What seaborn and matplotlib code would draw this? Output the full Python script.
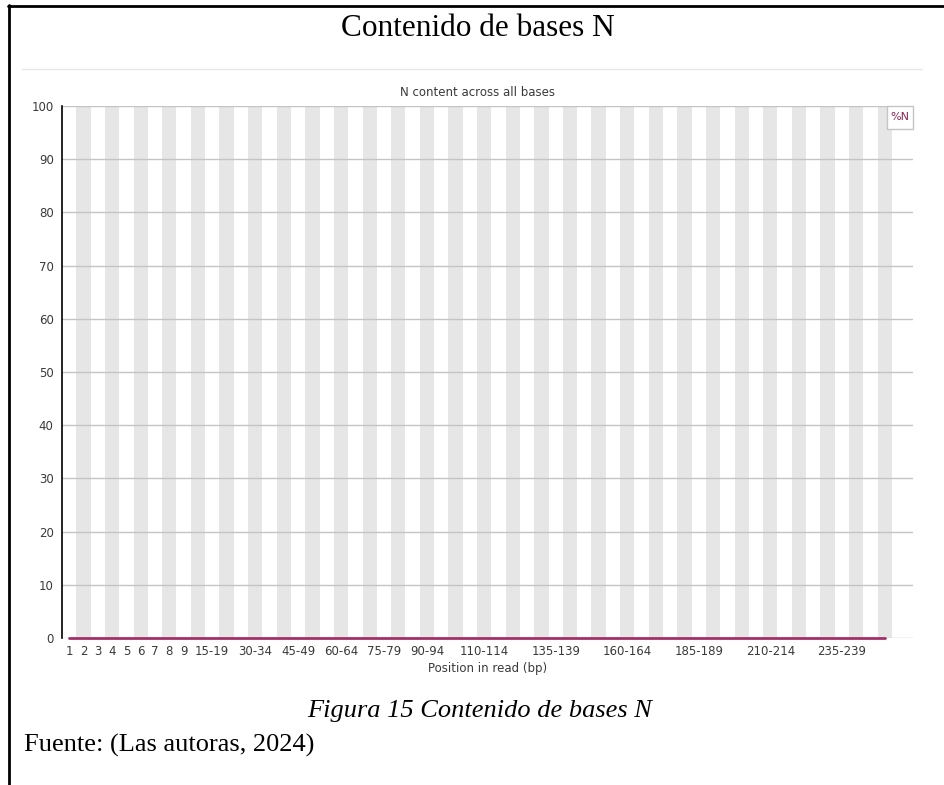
import pandas as pd
import seaborn as sns
import matplotlib.pyplot as plt
from matplotlib.lines import Line2D
from matplotlib.patches import Rectangle

# FastQC position bins (bp)
positions = [str(i) for i in range(1, 10)] + [f"{s}-{s + 4}" for s in range(10, 250, 5)] + ["250-251"]
n_pct = [0.0] * len(positions)

shown_labels = ["1", "2", "3", "4", "5", "6", "7", "8", "9", "15-19", "30-34", "45-49",
                "60-64", "75-79", "90-94", "110-114", "135-139", "160-164", "185-189",
                "210-214", "235-239"]
y_ticks = [0, 10, 20, 30, 40, 50, 60, 70, 80, 90, 100]

df = pd.DataFrame({"Position": positions, "%N": n_pct})

sns.set_style("white")
plt.rcParams["font.family"] = ["DejaVu Sans"]

W, H = 945, 785
fig = plt.figure(figsize=(W / 100, H / 100), dpi=100)
ax = fig.add_axes([62 / W, 147 / H, (913 - 62) / W, (638 - 106) / H])

# alternating background bands
for i in range(1, len(positions), 2):
    ax.axvspan(i - 0.5, i + 0.5, color="#e6e6e6", lw=0, zorder=0)
for y in y_ticks:
    ax.axhline(y, color="#c4c4c4", lw=1, zorder=1)

sns.lineplot(data=df, x="Position", y="%N", color="#a3306a", lw=2, ax=ax,
             legend=False, zorder=3, clip_on=False)

ax.set_xlim(-0.5, 58.97)
ax.set_ylim(0, 100)
ax.set_yticks(y_ticks)
ax.set_xticks([positions.index(p) for p in shown_labels])
ax.set_xticklabels(shown_labels)
ax.tick_params(axis="both", length=0, labelsize=8.5, colors="#3a3a3a")
ax.tick_params(axis="x", pad=5)
ax.tick_params(axis="y", pad=6)
ax.set_xlabel("Position in read (bp)", fontsize=8.5, color="#3a3a3a", labelpad=3)
ax.set_ylabel("")
for s in ["top", "right", "bottom"]:
    ax.spines[s].set_visible(False)
ax.spines["left"].set_color("black")
ax.spines["left"].set_linewidth(1.2)

# legend box
fig.patches.append(Rectangle((887 / W, 1 - 129 / H), 26 / W, 23 / H, transform=fig.transFigure,
                             facecolor="white", edgecolor="#c4c4c4", lw=1, zorder=5))
fig.text(900 / W, 1 - 117.5 / H, "%N", color="#8b2252", fontsize=8, ha="center", va="center", zorder=6)

fig.text(478 / W, 1 - 92 / H, "N content across all bases", fontsize=8.5, color="#3a3a3a",
         ha="center", va="center")

# document framing
serif = ["Liberation Serif", "DejaVu Serif"]
fig.text(478 / W, 1 - 29 / H, "Contenido de bases N", family=serif, fontsize=22.5,
         color="black", ha="center", va="center")
fig.text(480 / W, 1 - 711 / H, "Figura 15 Contenido de bases N", family=serif, style="italic",
         fontsize=19, color="black", ha="center", va="center")
fig.text(24 / W, 1 - 745 / H, "Fuente: (Las autoras, 2024)", family=serif, fontsize=19,
         color="black", ha="left", va="center")

fig.add_artist(Line2D([22 / W, 922 / W], [1 - 69 / H, 1 - 69 / H], color="#e8e8e8", lw=1))
fig.add_artist(Line2D([8 / W, 1], [1 - 6 / H, 1 - 6 / H], color="black", lw=2))
fig.add_artist(Line2D([9 / W, 9 / W], [0, 1 - 5 / H], color="black", lw=2))

fig.savefig("out.png", dpi=100)
plt.close(fig)
